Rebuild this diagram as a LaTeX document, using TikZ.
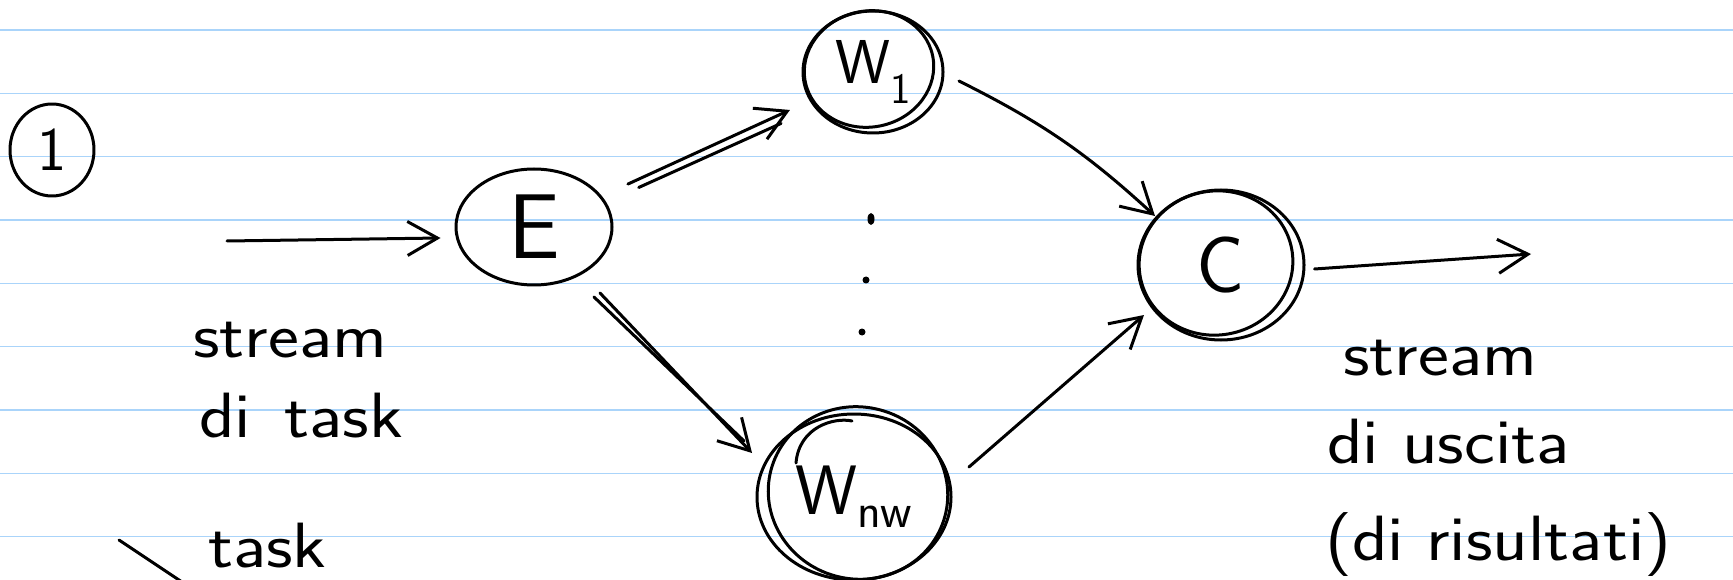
\documentclass[tikz,border=0pt]{standalone}
\usetikzlibrary{arrows.meta,shapes.geometric,calc}
\definecolor{ruleblue}{RGB}{170,212,250}
\begin{document}
\begin{tikzpicture}[x=1pt,y=-1pt,
  ink/.style={line width=3pt, line cap=round, line join=round, black},
  bubble/.style={ink, draw, ellipse, inner sep=0pt},
  hand/.style={font=\sffamily\fontsize{64}{70}\selectfont, inner sep=0pt, xscale=1.15},
  flow/.style={ink, -{Straight Barb[length=30pt,width=34pt]}},
  ruling/.style={draw=ruleblue, line width=1.6pt}]

% page and ruled lines
\fill[white] (0,0) rectangle (1733,580);
\useasboundingbox (0,0) rectangle (1733,580);
\foreach \k in {0,...,8}
  \draw[ruling] (0,{30+63.33*\k}) -- (1733,{30+63.33*\k});

% section number
\node[bubble, minimum width=84pt, minimum height=92pt,
      font=\sffamily\fontsize{62}{62}\selectfont] (one) at (52,150) {1};

% emitter, workers, collector
\node[bubble, minimum width=156pt, minimum height=116pt,
      font=\sffamily\fontsize{92}{92}\selectfont] (E) at (534,227) {E};
\node[bubble, minimum width=140pt, minimum height=122pt,
      font=\sffamily\fontsize{62}{62}\selectfont] (W1) at (873,72) {W\textsubscript{1}};
\node[bubble, minimum width=194pt, minimum height=166pt,
      font=\sffamily\fontsize{70}{70}\selectfont] (Wn) at (854,497) {W\textsubscript{nw}};
\node[bubble, minimum width=166pt, minimum height=150pt,
      font=\sffamily\fontsize{80}{80}\selectfont] (C) at (1221,265) {C};

% second pen strokes round the circles
\draw[ink] ($(W1)+(-4,-3)$) ellipse [x radius=65, y radius=58, rotate=12];
\draw[ink] ($(Wn)+(4,-4)$) ellipse [x radius=90, y radius=86, rotate=-15];
\draw[ink] ($(Wn)+(-58,-34)$) .. controls ($(Wn)+(-55,-70)$) and ($(Wn)+(-20,-80)$) .. ($(Wn)+(-2,-76)$);
\draw[ink] ($(C)+(-5,-2)$) ellipse [x radius=77, y radius=72, rotate=10];

% dots between the workers
\fill (871,219) ellipse [x radius=3.5, y radius=6];
\fill (866,280) circle (3.5);
\fill (862,332) circle (3.5);

% input and output streams
\coordinate (src) at (227,241);
\coordinate (sink) at (1531,254);
\draw[flow] (src) -- ([shift={(-14,11)}]E.west);
\draw[flow] ([shift={(9,4)}]C.east) -- (sink);

% emitter to workers (drawn twice over)
\draw[flow] ($(E)!0.277!(W1)$) -- ($(E)!0.755!(W1)$);
\draw[ink] ($(E)!0.30!(W1)+(3,7)$) -- ($(E)!0.72!(W1)+(3,8)$);
\draw[flow] ($(E)+(66,66)$) -- ($(Wn)+(-102,-44)$);
\draw[ink] ($(E)+(60,70)$) -- ($(Wn)+(-110,-56)$);

% workers to collector
\draw[flow] ($(W1)+(86,9)$) to[bend left=8] ($(C)+(-66,-49)$);
\draw[flow] ($(Wn)+(115,-30)$) -- ($(C)+(-77,50)$);

% labels
\node[hand, anchor=base west] (inA) at (193,357) {stream};
\node[hand, anchor=base west] (inB) at (199,437) {di\hspace{0.45em}task};
\node[hand, anchor=base west] (outA) at (1343,375) {stream};
\node[hand, anchor=base west] (outB) at (1327,463) {di uscita};
\node[hand, anchor=base west] (outC) at (1325,560) {(di\hspace{0.3em}risultati)};

% note at the foot of the page
\coordinate (tickA) at (119,540);
\coordinate (tickB) at (182,582);
\draw[ink] (tickA) -- (tickB);
\node[hand, anchor=base west] (tk) at (208,567) {task};
\end{tikzpicture}
\end{document}
